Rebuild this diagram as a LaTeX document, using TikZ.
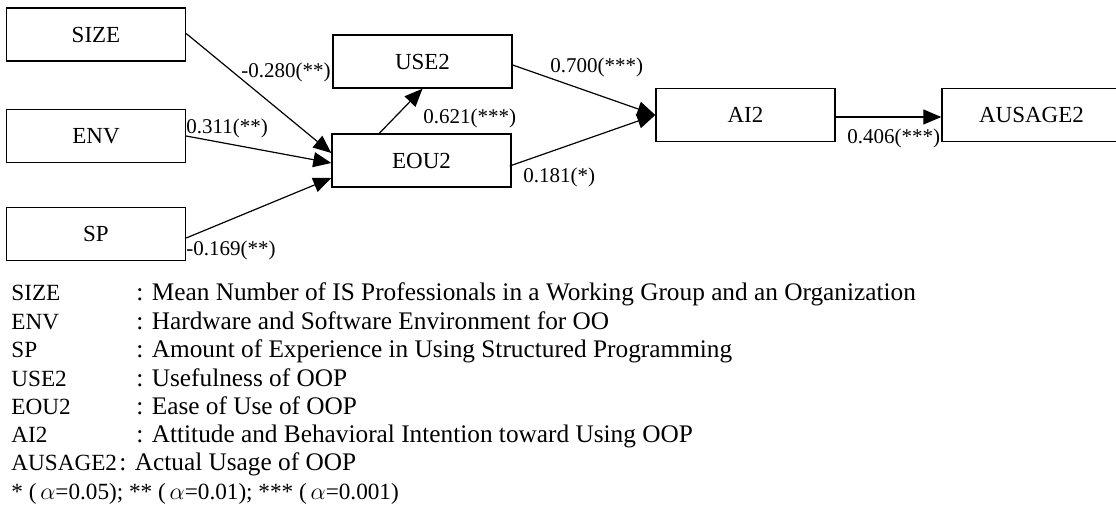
\documentclass[tikz,border=0pt]{standalone}
\usepackage{fontspec}
\setmainfont{Liberation Serif}
\usetikzlibrary{arrows.meta,calc}

\tikzset{
  var/.style={draw, line width=0.7pt, rectangle, minimum width=89.5pt,
    minimum height=26.5pt, inner sep=0pt, font=\fontsize{11.5pt}{13pt}\selectfont},
  path/.style={line width=0.6pt, -{Triangle[length=9pt,width=7.5pt]}},
  coef/.style={inner sep=0pt, font=\fontsize{10.5pt}{12pt}\selectfont},
  abbr/.style={anchor=base west, inner sep=0pt, font=\fontsize{11.6pt}{13pt}\selectfont},
  desc/.style={anchor=base west, inner sep=0pt, font=\fontsize{12.65pt}{14pt}\selectfont},
  note/.style={anchor=base west, inner sep=0pt, font=\fontsize{11.6pt}{14pt}\selectfont}
}

\begin{document}
\begin{tikzpicture}[x=0.5pt, y=-0.5pt]
\useasboundingbox (0,0) rectangle (1116,520);
\clip (0,0) rectangle (1116,520);

% constructs
\node[var] (SIZE) at (96,34.5) {SIZE};
\node[var] (ENV)  at (96,136) {ENV};
\node[var] (SP)   at (96,234) {SP};
\node[var] (USE2) at (422.5,61.5) {USE2};
\node[var] (EOU2) at (421.5,160.5) {EOU2};
\node[var] (AI2)  at (745.5,115) {AI2};
\node[var] (AUSAGE2) at (1031.5,115) {AUSAGE2};

% paths
\draw[path] ($(SIZE.east)+(0,-1)$) -- ($(EOU2.west)+(0,-7.5)$);
\draw[path] (ENV.east) -- ($(EOU2.west)+(0,2.5)$);
\draw[path] ($(SP.east)+(0,4)$) -- ($(EOU2.west)+(0,17.5)$);
\draw[path] ($(EOU2.north west)+(48,0)$) -- (USE2.south);
\draw[path] ($(USE2.east)+(0,3.5)$) -- (AI2.west);
\draw[path] ($(EOU2.east)+(-2,5.5)$) -- (AI2.west);
\draw[path] ($(AI2.east)+(0,2)$) -- ($(AUSAGE2.west)+(0,2)$);

% path coefficients
\node[coef, anchor=east] (cSIZE) at (331,72) {-0.280(**)};
\node[coef, anchor=west] (cENV)  at (186,128) {0.311(**)};
\node[coef, anchor=west] (cSP)   at (186,250) {-0.169(**)};
\node[coef, anchor=west] (cEOU)  at (423,118) {0.621(***)};
\node[coef, anchor=west] (cUSE)  at (550,67) {0.700(***)};
\node[coef, anchor=west] (cEAI)  at (523,177) {0.181(*)};
\node[coef, anchor=west] (cAI)   at (847,138) {0.406(***)};

% legend
\node[abbr] (kSIZE) at (11,300) {SIZE};
\node[desc] (dSIZE) at (136,300) {: Mean Number of IS Professionals in a Working Group and an Organization};
\node[abbr] (kENV) at (11,329) {ENV};
\node[desc] (dENV) at (136,329) {: Hardware and Software Environment for OO};
\node[abbr] (kSP) at (11,357) {SP};
\node[desc] (dSP) at (136,357) {: Amount of Experience in Using Structured Programming};
\node[abbr] (kUSE2) at (11,386) {USE2};
\node[desc] (dUSE2) at (136,386) {: Usefulness of OOP};
\node[abbr] (kEOU2) at (11,414) {EOU2};
\node[desc] (dEOU2) at (136,414) {: Ease of Use of OOP};
\node[abbr] (kAI2) at (11,442) {AI2};
\node[desc] (dAI2) at (136,442) {: Attitude and Behavioral Intention toward Using OOP};
\node[abbr] (kAUSAGE2) at (11,470) {AUSAGE2};
\node[desc] (dAUSAGE2) at (119,470) {: Actual Usage of OOP};
\node[note] (sig) at (11,499) {* (\,$\alpha$=0.05); ** (\,$\alpha$=0.01); *** (\,$\alpha$=0.001)};
\end{tikzpicture}
\end{document}
